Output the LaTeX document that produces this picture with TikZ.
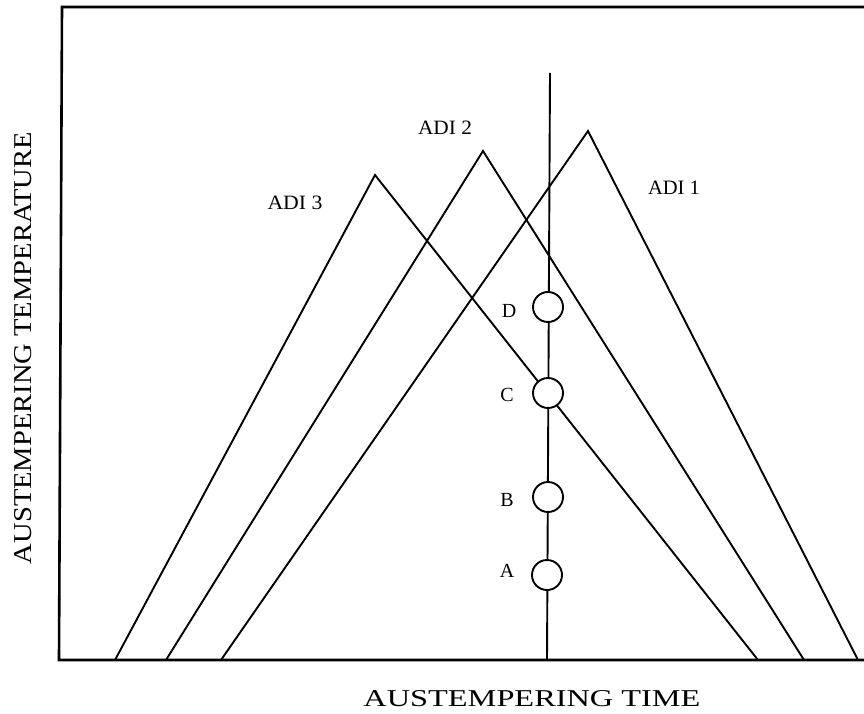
\documentclass[tikz,border=0pt]{standalone}
\usepackage{fontspec}
\usepackage{graphicx}
\setmainfont{Liberation Serif}
\newcommand{\fitlbl}[3]{\resizebox{#1pt}{#2pt}{#3}}
\tikzset{
  frameline/.style={line width=2.6pt, line cap=rect},
  curveline/.style={line width=1.9pt, line join=miter},
  timeline/.style={line width=1.9pt},
  probe/.style={circle, draw, line width=1.9pt, fill=white, minimum size=30pt, inner sep=0pt},
  lbl/.style={inner sep=0pt, anchor=center},
  letter/.style={inner sep=0pt, anchor=center, font=\fontsize{20}{20}\selectfont}
}
\begin{document}
\begin{tikzpicture}[x=1pt, y=-1pt]
\useasboundingbox (0,0) rectangle (864,714);
% frame
\coordinate (tl) at (62,7);
\coordinate (tr) at (864,7);
\coordinate (bl) at (59,660);
\coordinate (br) at (864,660);
\draw[frameline] (tr) -- (tl) -- (bl) -- (br);
% ADI curves
\coordinate (L3) at (115,660); \coordinate (P3) at (375,175); \coordinate (R3) at (758,660);
\coordinate (L2) at (166,660); \coordinate (P2) at (483,151); \coordinate (R2) at (804,660);
\coordinate (L1) at (221,660); \coordinate (P1) at (588,131); \coordinate (R1) at (858,660);
\draw[curveline] (L3) -- (P3) -- (R3);
\draw[curveline] (L2) -- (P2) -- (R2);
\draw[curveline] (L1) -- (P1) -- (R1);
% vertical time line
\coordinate (vt) at (550,73);
\coordinate (vb) at (547,660);
\draw[timeline] (vt) -- (vb);
% probe circles
\node[probe] (D) at (548,307) {};
\node[probe] (C) at (548,393) {};
\node[probe] (B) at (548,497) {};
\node[probe] (A) at (547,575) {};
% letter labels
\node[letter] (dl) at (509,311) {D};
\node[letter] (cl) at (507,395) {C};
\node[letter] (bl2) at (507,500) {B};
\node[letter] (al) at (507,571) {A};
% ADI labels
\node[lbl] (adi3) at (295,203) {\fitlbl{55}{13.5}{ADI 3}};
\node[lbl] (adi2) at (445,128) {\fitlbl{54}{13.5}{ADI 2}};
\node[lbl] (adi1) at (674,188) {\fitlbl{52}{13.5}{ADI 1}};
% axis labels
\node[lbl] (xlab) at (532,699) {\fitlbl{337}{16}{AUSTEMPERING TIME}};
\node[lbl] (ylab) at (23,348) {\rotatebox{90}{\fitlbl{432}{17}{AUSTEMPERING TEMPERATURE}}};
\end{tikzpicture}
\end{document}
